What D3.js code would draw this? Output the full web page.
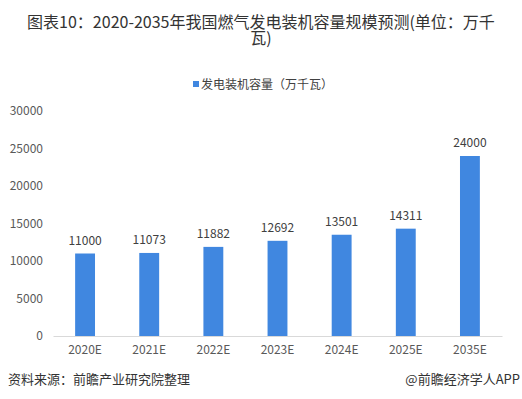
<!DOCTYPE html>
<html>
<head>
<meta charset="utf-8">
<script src="https://cdn.jsdelivr.net/npm/d3@7"></script>
<style>
  body { margin: 0; background: #fff; }
  text { font-family: "Noto Sans CJK SC", "Noto Sans", sans-serif; }
</style>
</head>
<body>
<script>
// data
const years = ["2020E", "2021E", "2022E", "2023E", "2024E", "2025E", "2035E"];
const capacity = [11000, 11073, 11882, 12692, 13501, 14311, 24000];
const yTicks = [0, 5000, 10000, 15000, 20000, 25000, 30000];
const titleLines = ["图表10：2020-2035年我国燃气发电装机容量规模预测(单位：万千", "瓦)"];
const legendLabel = "发电装机容量（万千瓦）";
const sourceText = "资料来源：前瞻产业研究院整理";
const brandText = "@前瞻经济学人APP";

let width = 522,
    height = 399;

let margin = { top: 111, bottom: 63, left: 53, right: 20 };

let svg = d3.select('body')
  .append('svg')
    .attr('width', width)
    .attr('height', height);

let barColor = '#4087e0';

// title, two lines
svg.selectAll('text.title')
  .data(titleLines)
  .enter()
  .append('text')
    .attr('class', 'title')
    .attr('x', width / 2)
    .attr('y', (d, i) => 28 + i * 16)
    .attr('text-anchor', 'middle')
    .style('font-size', '16px')
    .style('fill', '#333')
    .text(d => d);

// legend
let legend = svg.append('g').attr('transform', 'translate(193,86)');
legend.append('rect')
  .attr('x', 0).attr('y', -5)
  .attr('width', 6).attr('height', 6)
  .attr('fill', barColor);
legend.append('text')
  .attr('x', 8).attr('y', 0)
  .attr('dominant-baseline', 'middle')
  .style('font-size', '12px')
  .style('fill', '#404040')
  .text(legendLabel);

let xScale = d3.scaleBand()
  .domain(years)
  .range([margin.left, width - margin.right])
  .paddingInner(0.69)
  .paddingOuter(0.345);

let yScale = d3.scaleLinear()
  .domain([0, 30000])
  .range([height - margin.bottom, margin.top]);

// y axis, labels only
let yAxis = svg.append('g')
  .attr('transform', `translate(${margin.left - 10},0)`)
  .call(d3.axisLeft(yScale).tickValues(yTicks).tickFormat(d3.format('d')).tickSize(0).tickPadding(0));
yAxis.select('.domain').remove();
yAxis.selectAll('text')
  .style('font-size', '12px')
  .style('fill', '#595959')
  .style('font-family', '"Noto Sans CJK SC", "Noto Sans", sans-serif');

// x axis
let xAxis = svg.append('g')
  .attr('transform', `translate(0,${height - margin.bottom})`)
  .call(d3.axisBottom(xScale).tickSize(0).tickPadding(9));
xAxis.select('.domain')
  .attr('stroke', '#d9d9d9');
xAxis.selectAll('text')
  .style('font-size', '12px')
  .style('fill', '#595959')
  .style('font-family', '"Noto Sans CJK SC", "Noto Sans", sans-serif');

// bars
let data = years.map((y, i) => ({ year: y, value: capacity[i] }));

svg.selectAll('rect.bar')
  .data(data)
  .enter()
  .append('rect')
    .attr('class', 'bar')
    .attr('x', d => xScale(d.year))
    .attr('y', d => yScale(d.value))
    .attr('width', xScale.bandwidth())
    .attr('height', d => yScale(0) - yScale(d.value))
    .attr('fill', barColor);

// value labels
svg.selectAll('text.val')
  .data(data)
  .enter()
  .append('text')
    .attr('class', 'val')
    .attr('x', d => xScale(d.year) + xScale.bandwidth() / 2)
    .attr('y', d => yScale(d.value) - 9)
    .attr('text-anchor', 'middle')
    .style('font-size', '12px')
    .style('fill', '#404040')
    .text(d => d.value);

// footer
svg.append('text')
  .attr('x', 8).attr('y', 384)
  .style('font-size', '13px')
  .style('fill', '#333')
  .text(sourceText);

svg.append('text')
  .attr('x', 520).attr('y', 384)
  .attr('text-anchor', 'end')
  .style('font-size', '13px')
  .style('fill', '#333')
  .text(brandText);
</script>
</body>
</html>
